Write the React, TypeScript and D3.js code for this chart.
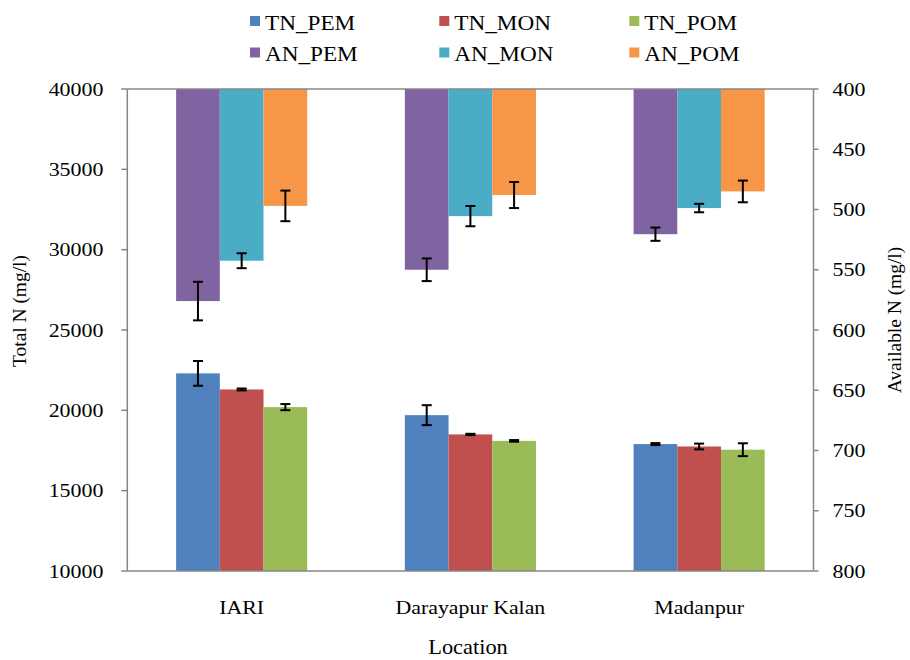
import React from "react";
import * as d3 from "d3";

const locations = ["IARI", "Darayapur Kalan", "Madanpur"];

const tnSeries = ["TN_PEM", "TN_MON", "TN_POM"];
const anSeries = ["AN_PEM", "AN_MON", "AN_POM"];

const TN_PEM = [22300, 19700, 17900];
const TN_MON = [21300, 18500, 17750];
const TN_POM = [20200, 18100, 17550];
const TN_PEM_ERR = [770, 620, 60];
const TN_MON_ERR = [60, 40, 180];
const TN_POM_ERR = [190, 50, 400];

const AN_PEM = [576, 550, 520.5];
const AN_MON = [542.5, 505.5, 498.8];
const AN_POM = [497, 488, 485];
const AN_PEM_ERR = [16, 9.4, 5.5];
const AN_MON_ERR = [6.2, 8.4, 3.5];
const AN_POM_ERR = [12.7, 10.8, 9];

const leftTicks = [10000, 15000, 20000, 25000, 30000, 35000, 40000];
const rightTicks = [400, 450, 500, 550, 600, 650, 700, 750, 800];

const tnColors = ["#4F81BD", "#C0504D", "#9BBB59"];
const anColors = ["#8064A2", "#4BACC6", "#F79646"];

const FONT = "Liberation Serif, Times New Roman, DejaVu Serif, serif";

function Txt({ x, y, sx = 1.2, size = 18, anchor = "start", rotate = 0, children }: any) {
  const rot = rotate ? ` rotate(${rotate})` : "";
  return (
    <text
      transform={`translate(${x},${y})${rot} scale(${sx},1)`}
      fontSize={size}
      fontFamily={FONT}
      textAnchor={anchor}
      fill="#000"
    >
      {children}
    </text>
  );
}

export default function App() {
  const W = 910, H = 660;
  const left = 127.3, right = 813.5, top = 89, bottom = 571;

  const x0 = d3.scaleBand<string>().domain(locations).range([left, right]).padding(0);
  const x1 = d3.scaleBand<number>().domain([0, 1, 2]).range([0, x0.step()]).paddingInner(0).paddingOuter(1.117);
  const yL = d3.scaleLinear().domain([10000, 40000]).range([bottom, top]);
  const yR = d3.scaleLinear().domain([400, 800]).range([top, bottom]);

  const tnVals = [TN_PEM, TN_MON, TN_POM];
  const tnErr = [TN_PEM_ERR, TN_MON_ERR, TN_POM_ERR];
  const anVals = [AN_PEM, AN_MON, AN_POM];
  const anErr = [AN_PEM_ERR, AN_MON_ERR, AN_POM_ERR];

  const axisColor = "#868686";
  const bw = x1.bandwidth();
  const cap = 5;

  const errBar = (cx: number, y1: number, y2: number, key: string) => (
    <g key={key} stroke="#000" strokeWidth={2}>
      <line x1={cx} x2={cx} y1={y1} y2={y2} />
      <line x1={cx - cap} x2={cx + cap} y1={y1} y2={y1} />
      <line x1={cx - cap} x2={cx + cap} y1={y2} y2={y2} />
    </g>
  );

  const legendCols = [250, 439.3, 629.3];
  const legendRows = [16, 47.5];
  const legendItems = [
    ...tnSeries.map((s, i) => ({ s, c: tnColors[i], col: i, row: 0 })),
    ...anSeries.map((s, i) => ({ s, c: anColors[i], col: i, row: 1 })),
  ];

  return (
    <svg width={W} height={H} style={{ position: "absolute", left: 0, top: 0, background: "#fff" }}>
      <rect x={0} y={0} width={W} height={H} fill="#fff" />
      {locations.map((loc, li) =>
        tnVals.map((vals, si) => {
          const x = (x0(loc) as number) + (x1(si) as number);
          return (
            <rect key={`tn-${li}-${si}`} x={x} y={yL(vals[li])} width={bw} height={bottom - yL(vals[li])} fill={tnColors[si]} />
          );
        })
      )}
      {locations.map((loc, li) =>
        anVals.map((vals, si) => {
          const x = (x0(loc) as number) + (x1(si) as number);
          return (
            <rect key={`an-${li}-${si}`} x={x} y={top} width={bw} height={yR(vals[li]) - top} fill={anColors[si]} />
          );
        })
      )}
      {locations.map((loc, li) =>
        tnVals.map((vals, si) => {
          const cx = (x0(loc) as number) + (x1(si) as number) + bw / 2;
          return errBar(cx, yL(vals[li] + tnErr[si][li]), yL(vals[li] - tnErr[si][li]), `te-${li}-${si}`);
        })
      )}
      {locations.map((loc, li) =>
        anVals.map((vals, si) => {
          const cx = (x0(loc) as number) + (x1(si) as number) + bw / 2;
          return errBar(cx, yR(vals[li] - anErr[si][li]), yR(vals[li] + anErr[si][li]), `ae-${li}-${si}`);
        })
      )}
      <g stroke={axisColor} strokeWidth={1.5} fill="none">
        <line x1={left} x2={right} y1={top} y2={top} />
        <line x1={left} x2={right} y1={bottom} y2={bottom} />
        <line x1={left} x2={left} y1={top} y2={bottom} />
        <line x1={right} x2={right} y1={top} y2={bottom} />
        {leftTicks.map((t) => (
          <line key={`lt${t}`} x1={left - 6} x2={left} y1={yL(t)} y2={yL(t)} />
        ))}
        {rightTicks.map((t) => (
          <line key={`rt${t}`} x1={right} x2={right + 5} y1={yR(t)} y2={yR(t)} />
        ))}
      </g>
      {leftTicks.map((t) => (
        <Txt key={`ll${t}`} x={103.5} y={yL(t) + 6.5} anchor="end" sx={1.22} size={18}>
          {String(t)}
        </Txt>
      ))}
      {rightTicks.map((t) => (
        <Txt key={`rl${t}`} x={832.5} y={yR(t) + 6.5} anchor="start" sx={1.22} size={18}>
          {String(t)}
        </Txt>
      ))}
      {locations.map((loc) => (
        <Txt key={`xl${loc}`} x={(x0(loc) as number) + x0.bandwidth() / 2} y={614} anchor="middle" sx={1.15} size={19}>
          {loc}
        </Txt>
      ))}
      <Txt x={468} y={654} anchor="middle" sx={1.12} size={20}>Location</Txt>
      <Txt x={26} y={311} anchor="middle" rotate={-90} sx={1.08} size={18}>Total N (mg/l)</Txt>
      <Txt x={901} y={320} anchor="middle" rotate={-90} sx={1.08} size={18}>Available N (mg/l)</Txt>
      {legendItems.map((it) => (
        <g key={it.s}>
          <rect x={legendCols[it.col]} y={legendRows[it.row]} width={10} height={10} fill={it.c} />
          <Txt x={legendCols[it.col] + 15} y={legendRows[it.row] + 13.5} sx={1.16} size={20}>
            {it.s}
          </Txt>
        </g>
      ))}
    </svg>
  );
}
